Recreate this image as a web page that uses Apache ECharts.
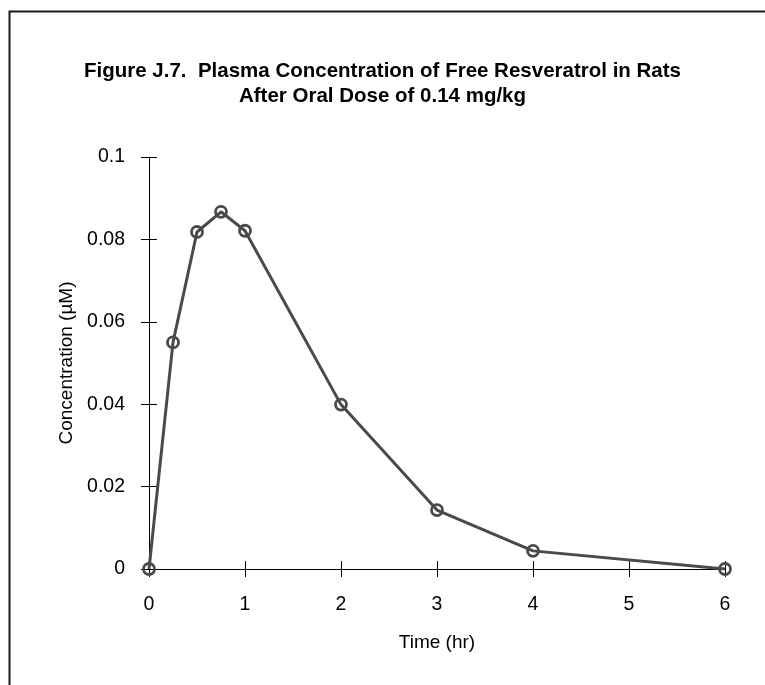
<!DOCTYPE html>
<html>
<head>
<meta charset="utf-8">
<script src="https://cdn.jsdelivr.net/npm/echarts@6/dist/echarts.min.js"></script>
<style>
html,body{margin:0;padding:0;background:#fff;}
#chart{width:765px;height:685px;}
</style>
</head>
<body>
<div id="chart"></div>
<script>
const titleLines = ['Figure J.7.  Plasma Concentration of Free Resveratrol in Rats', 'After Oral Dose of 0.14 mg/kg'];
const xAxisName = 'Time (hr)';
const yAxisName = 'Concentration (\u00B5M)';
const timeHr = [0, 0.25, 0.5, 0.75, 1, 2, 3, 4, 6];
const concentration = [0, 0.055, 0.0818, 0.0867, 0.0821, 0.0399, 0.0143, 0.0044, 0];
const xRange = [0, 6, 1];
const yRange = [0, 0.1, 0.02];

const FONT = '"Liberation Sans", Arial, sans-serif';
const chart = echarts.init(document.getElementById('chart'), null, {renderer: 'canvas'});

function xAx(inside, show) {
  return {
    type: 'value', position: 'bottom', min: xRange[0], max: xRange[1], interval: xRange[2],
    name: show ? xAxisName : '', nameLocation: 'middle', nameGap: 64,
    nameTextStyle: {fontFamily: FONT, fontSize: 19, color: '#000'},
    axisLine: {show: show, onZero: false, lineStyle: {color: '#000', width: 1}},
    axisTick: {show: true, inside: inside, length: 8, lineStyle: {color: '#000', width: 1}},
    axisLabel: {show: show, margin: 26, fontFamily: FONT, fontSize: 19.5, color: '#000'},
    splitLine: {show: false}
  };
}
function yAx(inside, show) {
  return {
    type: 'value', position: 'left', min: yRange[0], max: yRange[1], interval: yRange[2],
    name: show ? yAxisName : '', nameLocation: 'middle', nameGap: 73,
    nameTextStyle: {fontFamily: FONT, fontSize: 19, color: '#000'},
    axisLine: {show: show, onZero: false, lineStyle: {color: '#000', width: 1}},
    axisTick: {show: true, inside: inside, length: 8, lineStyle: {color: '#000', width: 1}},
    axisLabel: {show: show, margin: 24, fontFamily: FONT, fontSize: 19.5, color: '#000',
      formatter: v => String(+v.toFixed(2))},
    splitLine: {show: false}
  };
}

chart.setOption({
  animation: false,
  backgroundColor: '#fff',
  title: {
    text: titleLines.join('\n'),
    left: 'center', top: 54, padding: [5, 0, 5, 14],
    textStyle: {fontFamily: FONT, fontSize: 20.5, fontWeight: 'bold', color: '#000', lineHeight: 25}
  },
  grid: {left: 149, top: 157, width: 576, height: 412, containLabel: false},
  xAxis: [xAx(false, true), xAx(true, false)],
  yAxis: [yAx(false, true), yAx(true, false)],
  graphic: [{
    type: 'rect', left: 7, top: 9, z: 100,
    shape: {x: 0, y: 0, width: 820, height: 720},
    style: {fill: 'none', stroke: '#1a1a1a', lineWidth: 2}
  }],
  series: [{
    type: 'line', xAxisIndex: 0, yAxisIndex: 0,
    data: timeHr.map((t, i) => [t, concentration[i]]),
    symbol: 'circle', symbolSize: 11,
    lineStyle: {color: '#4a4a4a', width: 3},
    itemStyle: {color: 'rgba(0,0,0,0)', borderColor: '#4a4a4a', borderWidth: 2.8},
    z: 5
  }]
});
</script>
</body>
</html>
